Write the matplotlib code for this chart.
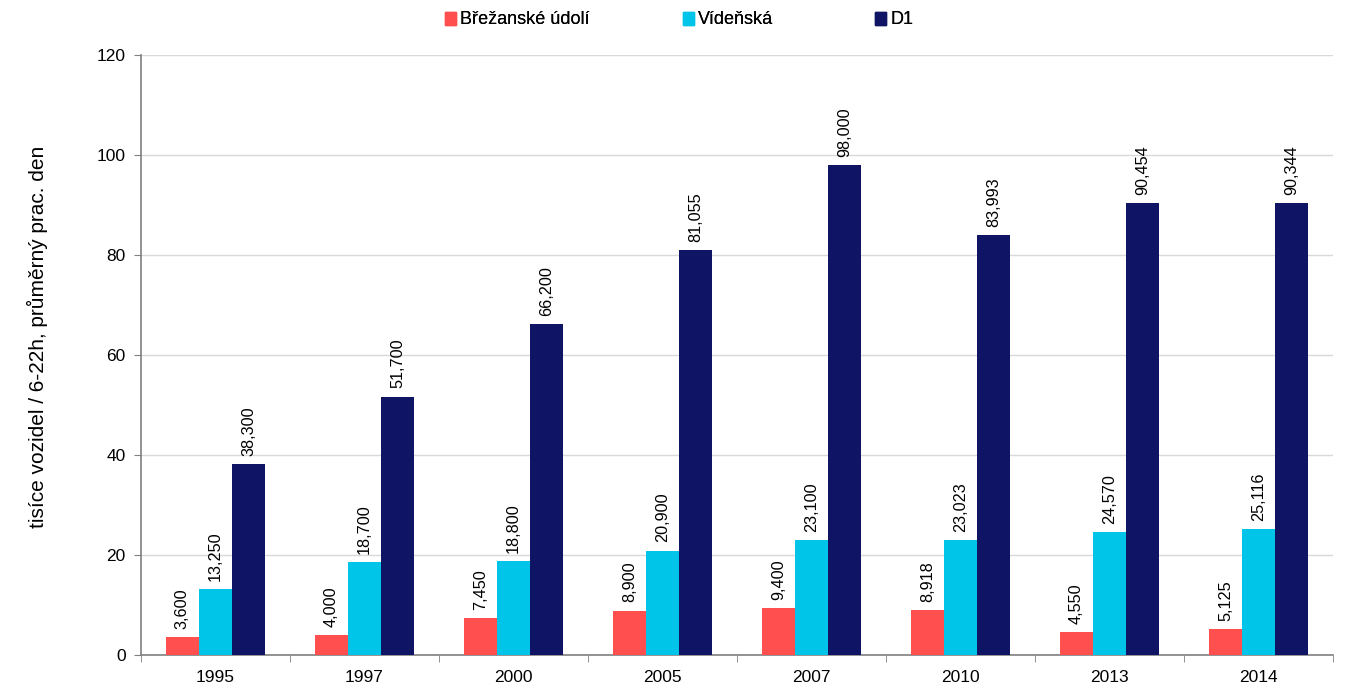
import numpy as np
import matplotlib.pyplot as plt
from matplotlib.patches import Patch

plt.rcParams['font.family'] = ['Liberation Sans', 'DejaVu Sans']

years = ['1995', '1997', '2000', '2005', '2007', '2010', '2013', '2014']
brezanske = [3.600, 4.000, 7.450, 8.900, 9.400, 8.918, 4.550, 5.125]
videnska = [13.250, 18.700, 18.800, 20.900, 23.100, 23.023, 24.570, 25.116]
d1 = [38.300, 51.700, 66.200, 81.055, 98.000, 83.993, 90.454, 90.344]

series = [('Břežanské údolí', brezanske, '#ff4f4f'),
          ('Vídeňská', videnska, '#00c5e8'),
          ('D1', d1, '#101464')]

fig = plt.figure(figsize=(13.48, 6.87), dpi=100)
ax = fig.add_axes([141/1348, 32/687, 1192/1348, 600/687])

x = np.arange(len(years))
w = 0.222
for i, (name, vals, col) in enumerate(series):
    pos = x + (i - 1) * w
    ax.bar(pos, vals, width=w, color=col, label=name, zorder=3)
    for px, v in zip(pos, vals):
        ax.text(px, v + 1.6, f'{int(round(v * 1000)):,}', rotation=90,
                ha='center', va='bottom', fontsize=11.7, color='black')

ax.set_xlim(-0.5, len(years) - 0.5)
ax.set_ylim(0, 120)
ax.set_yticks(range(0, 121, 20))
ax.set_xticks(x)
ax.set_xticklabels(years, fontsize=12.5)
ax.set_xticks(np.arange(-0.5, len(years), 1), minor=True)
ax.tick_params(axis='x', which='major', length=0, pad=11)
ax.tick_params(axis='x', which='minor', length=5, color='#808080', direction='out')
ax.tick_params(axis='y', labelsize=12.5, length=5, color='#808080', pad=6)
ax.grid(axis='y', color='#d9d9d9', linewidth=1, zorder=0)
for s in ['top', 'right']:
    ax.spines[s].set_visible(False)
for s in ['left', 'bottom']:
    ax.spines[s].set_color('#808080')
    ax.spines[s].set_linewidth(1.2)

ax.set_ylabel('tisíce vozidel / 6-22h, průměrný prac. den', fontsize=15)
ax.yaxis.set_label_coords(-0.078, 0.53)

# legend entries spread as in the original
leg_x = [445, 683, 875]
for (name, vals, col), lx in zip(series, leg_x):
    leg = fig.legend(handles=[Patch(color=col, label=name)], loc='center left',
                     bbox_to_anchor=(lx / 1348, 1 - 20 / 687), frameon=False,
                     fontsize=13, handlelength=0.6, handleheight=0.7,
                     handletextpad=0.25, borderaxespad=0, borderpad=0)
    fig.add_artist(leg)

fig.savefig('out.png', dpi=100)
